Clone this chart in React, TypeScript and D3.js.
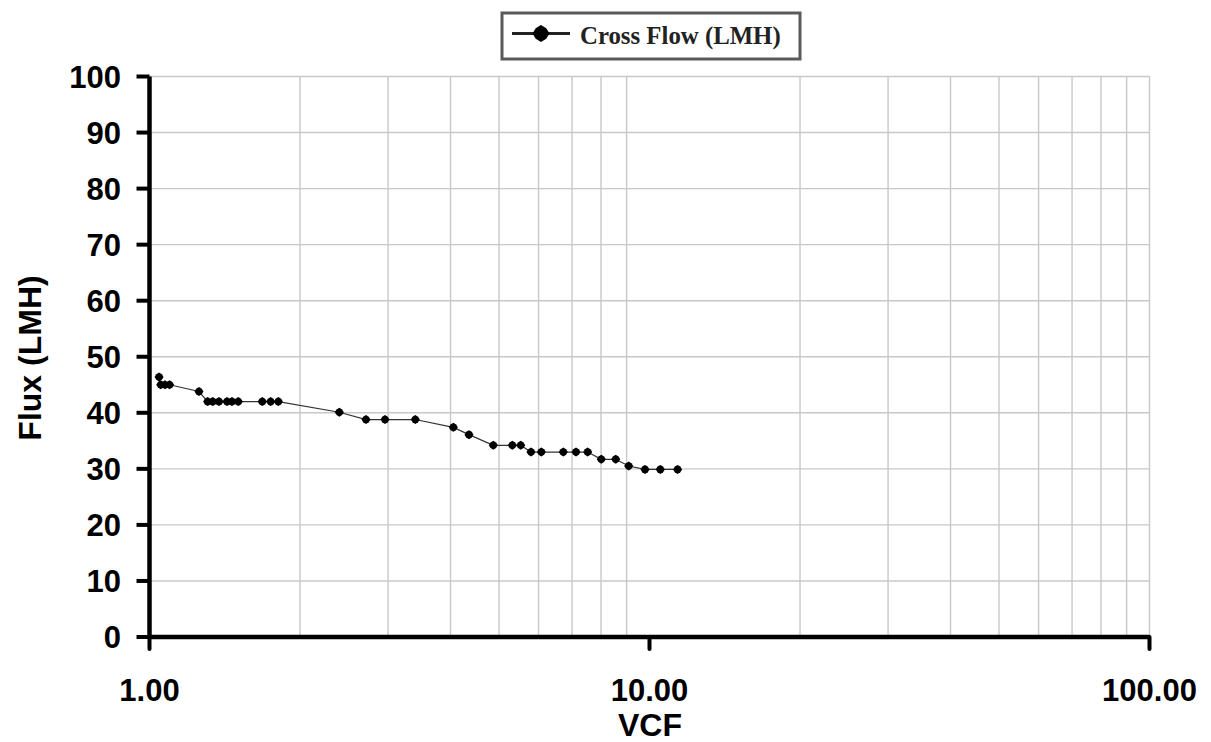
import React from "react";
import * as d3 from "d3";

const vcf: number[] = [
  1.045, 1.053, 1.074, 1.097, 1.256, 1.307, 1.338, 1.377, 1.429, 1.462, 1.505,
  1.681, 1.747, 1.81, 2.397, 2.71, 2.958, 3.401, 4.052, 4.355, 4.871, 5.317,
  5.527, 5.794, 6.076, 6.724, 7.129, 7.522, 8.009, 8.559, 9.087, 9.795, 10.51,
  11.38,
];
const flux: number[] = [
  46.4, 45.0, 45.0, 45.0, 43.8, 42.0, 42.0, 42.0, 42.0, 42.0, 42.0, 42.0, 42.0,
  42.0, 40.1, 38.8, 38.8, 38.8, 37.4, 36.1, 34.2, 34.2, 34.2, 33.0, 33.0, 33.0,
  33.0, 33.0, 31.7, 31.7, 30.5, 29.9, 29.9, 29.9,
];
const xTicks: number[] = [1, 10, 100];
const xTickLabels: string[] = ["1.00", "10.00", "100.00"];
const xMinorGrid: number[] = [2, 3, 4, 5, 6, 7, 8, 9, 20, 30, 40, 50, 60, 70, 80, 90, 100];
const yTicks: number[] = [0, 10, 20, 30, 40, 50, 60, 70, 80, 90, 100];
const seriesName = "Cross Flow (LMH)";
const xTitle = "VCF";
const yTitle = "Flux (LMH)";

const W = 1211;
const H = 742;
const left = 149.5;
const right = 1149.5;
const top = 76.5;
const bottom = 637;

const markerPath = (r: number) => {
  const a = r * 0.62;
  return `M0,${-r}L${a},${-a}L${r},0L${a},${a}L0,${r}L${-a},${a}L${-r},0L${-a},${-a}Z`;
};

export default function App() {
  const x = d3.scaleLog().domain([1, 100]).range([left, right]);
  const y = d3.scaleLinear().domain([0, 100]).range([bottom, top]);
  const pts = vcf.map((v, i) => [v, flux[i]] as [number, number]);
  const line = d3
    .line<[number, number]>()
    .x((d) => x(d[0]))
    .y((d) => y(d[1]));
  const sans = "'Liberation Sans', Arial, sans-serif";
  const serif = "'Liberation Serif', 'Times New Roman', serif";

  return (
    <svg
      width={W}
      height={H}
      style={{ position: "absolute", left: 0, top: 0, background: "#fff" }}
    >
      <rect x={0} y={0} width={W} height={H} fill="#fff" />
      {/* grid */}
      {xMinorGrid.map((v) => (
        <line
          key={"gx" + v}
          x1={x(v)}
          x2={x(v)}
          y1={top}
          y2={bottom}
          stroke="#c8c8c8"
          strokeWidth={1.4}
        />
      ))}
      {yTicks
        .filter((v) => v > 0)
        .map((v) => (
          <line
            key={"gy" + v}
            x1={left}
            x2={right}
            y1={y(v)}
            y2={y(v)}
            stroke="#c8c8c8"
            strokeWidth={1.4}
          />
        ))}
      {/* data */}
      <path d={line(pts) || ""} fill="none" stroke="#333" strokeWidth={1.2} />
      {pts.map((p, i) => (
        <path
          key={"m" + i}
          d={markerPath(4.5)}
          transform={`translate(${x(p[0])},${y(p[1])})`}
          fill="#000"
        />
      ))}
      {/* axes */}
      <line x1={left} x2={left} y1={top} y2={bottom} stroke="#000" strokeWidth={4.5} />
      <line x1={left} x2={right} y1={bottom} y2={bottom} stroke="#000" strokeWidth={4.5} />
      {yTicks.map((v) => (
        <g key={"yt" + v}>
          <line
            x1={left - 13}
            x2={left}
            y1={y(v)}
            y2={y(v)}
            stroke="#000"
            strokeWidth={4}
          />
          <text
            x={121}
            y={y(v)}
            dy="0.36em"
            textAnchor="end"
            fontFamily={sans}
            fontWeight="bold"
            fontSize={31}
            fill="#000"
          >
            {v}
          </text>
        </g>
      ))}
      {xTicks.map((v, i) => (
        <g key={"xt" + v}>
          <line
            x1={x(v)}
            x2={x(v)}
            y1={bottom}
            y2={bottom + 12}
            stroke="#000"
            strokeWidth={4}
            strokeLinecap="round"
          />
          <text
            x={x(v)}
            y={701}
            textAnchor="middle"
            fontFamily={sans}
            fontWeight="bold"
            fontSize={31}
            fill="#000"
          >
            {xTickLabels[i]}
          </text>
        </g>
      ))}
      <text
        x={650}
        y={736}
        textAnchor="middle"
        fontFamily={sans}
        fontWeight="bold"
        fontSize={32}
        fill="#000"
      >
        {xTitle}
      </text>
      <text
        transform={`translate(41,358) rotate(-90)`}
        textAnchor="middle"
        fontFamily={sans}
        fontWeight="bold"
        fontSize={32}
        fill="#000"
      >
        {yTitle}
      </text>
      {/* legend */}
      <rect
        x={502}
        y={13}
        width={298}
        height={46}
        fill="#fff"
        stroke="#5a5a5a"
        strokeWidth={3}
      />
      <line x1={512} x2={570} y1={33.5} y2={33.5} stroke="#222" strokeWidth={3} />
      <path d={markerPath(8.5)} transform="translate(541,33.5)" fill="#000" />
      <text
        x={580}
        y={43.5}
        fontFamily={serif}
        fontWeight="bold"
        fontSize={24.8}
        fill="#222"
      >
        {seriesName}
      </text>
    </svg>
  );
}
